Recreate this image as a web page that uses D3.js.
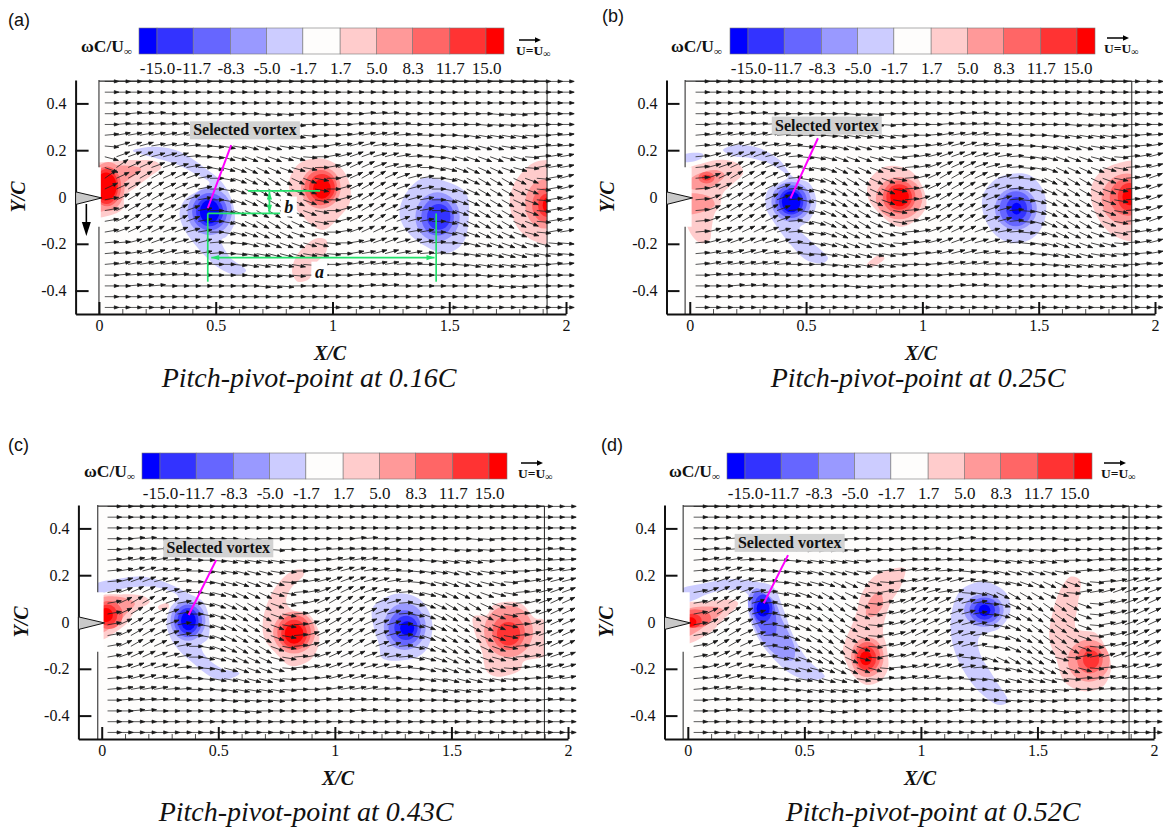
<!DOCTYPE html>
<html>
<head>
<meta charset="utf-8">
<script src="https://cdn.jsdelivr.net/npm/d3@7"></script>
<style>
  body { margin: 0; background: #fff; }
  text { fill: #111; }
</style>
</head>
<body>
<svg id="fig" width="1163" height="831"></svg>
<script>
const xTicks = [0, 0.5, 1, 1.5, 2];
const xMinor = [0.1, 0.2, 0.3, 0.4, 0.6, 0.7, 0.8, 0.9, 1.1, 1.2, 1.3, 1.4, 1.6, 1.7, 1.8, 1.9];
const yTicks = [0.4, 0.2, 0, -0.2, -0.4];
const cbEdges = [-16.67, -15, -11.7, -8.3, -5, -1.7, 1.7, 5, 8.3, 11.7, 15, 16.67];
const cbTicks = [-15, -11.7, -8.3, -5, -1.7, 1.7, 5, 8.3, 11.7, 15];
const cbLabels = ["-15.0", "-11.7", "-8.3", "-5.0", "-1.7", "1.7", "5.0", "8.3", "11.7", "15.0"];
const cbColors = ["#0000ff", "#3333ff", "#6666ff", "#9999ff", "#ccccff", "#fefdfc", "#ffcccc", "#ff9999", "#ff6666", "#ff3333", "#ff0000"];
const airfoil = [[-0.1, 0.022], [0.012, -0.004], [-0.1, -0.032]];

// velocity direction per grid cell: digits = up in 5 deg steps, letters a-i = down in 5 deg steps
const fieldY = [0.494, 0.448, 0.402, 0.356, 0.31, 0.264, 0.218, 0.172, 0.126, 0.08, 0.034, -0.012, -0.058, -0.104, -0.15, -0.196, -0.242, -0.288, -0.334, -0.38, -0.426, -0.472];
const fieldA = [
  "0000000000000000000000000000000000000000",
  "0000000000000000000000000000000000000000",
  "0000000000000000000000000000000000000000",
  "0011100000000aaa00000011100000000aaa0000",
  "011111100000aaaaa000011111000000aaaaa000",
  "12222221100abbbbba001222211000abbbbba011",
  "a33322210abbcccbba0223322110abbcccbba111",
  "c44433310accdddcca0234433210accdddcca122",
  "d75544320bcdeeedcb0245543220bcdeeedca222",
  "7566655420bdefffedb0356654320bdefffeda23",
  "5566655420bdefffedb0356654320bdefffeda23",
  "2566655420bdefffedb0356654320bdefffeda23",
  "2566655420bdefffedb0356654320bdefffeda23",
  "2566655420bdefffedb0356654320bdefffeda23",
  "2455544320bcdeeedcb0245543220bcdeeedca22",
  "11344433310accdddcca0234433210accdddccaa",
  "11233322210abbcccbba0223322110abbcccbbaa",
  "12222221100abbbbba001222211000abbbbba011",
  "011111100000aaaaa000011111000000aaaaa000",
  "0011100000000aaa00000011100000000aaa0000",
  "0000000000000000000000000000000000000000",
  "0000000000000000000000000000000000000000"
];
const fieldB = [
  "0000000000000000000000000000000000000000",
  "0000000000000000000000000000000000000000",
  "0000000000000000000000000000000000000000",
  "0001110000000aaa00000011100000000aaa0000",
  "011111100000aaaaa000011111000000aaaaa000",
  "12222221000abbbbba001222211000abbbbba011",
  "122333221aabcccbba01233322110abcccbba012",
  "133444331abcdddcca1234443321abcdddcca123",
  "134555431bbdeeedcb1245554321abdeeedcb123",
  "145666541bcefffedb1356665431acefffedb134",
  "145666541bcefffedb1356665431acefffedb134",
  "145666541bcefffedb1356665431acefffedb134",
  "145666541bcefffedb1356665431acefffedb134",
  "145666541bcefffedb1356665431acefffedb134",
  "134555431bbdeeedcb1245554321abdeeedcb123",
  "133444331abcdddcca1234443321abcdddcca123",
  "122333221aabcccbba01233322110abcccbba012",
  "12222221000abbbbba001222211000abbbbba011",
  "011111100000aaaaa000011111000000aaaaa000",
  "0001110000000aaa00000011100000000aaa0000",
  "0000000000000000000000000000000000000000",
  "0000000000000000000000000000000000000000"
];
const fieldC = [
  "0000000000000000000000000000000000000000",
  "0000000000000000000000000000000000000000",
  "0000000000000000000000000000000000000000",
  "00110000000aa000000001100000000aa0000000",
  "0111110000aaaaa00011111100000aaaa0000110",
  "122221100abbbbba00122221100abbbba0011111",
  "12332210abbcccba0123332210abbcccbba01222",
  "13443310accdddca1234443321accdddcca12333",
  "24554320bcdeeecb1245554321bcdeeedcb12344",
  "25665420bdefffdb1356665431bdefffedb13455",
  "25665420bdefffdb1356665431bdefffedb13455",
  "25665420bdefffdb1356665431bdefffedb13455",
  "25665420bdefffdb1356665431bdefffedb13455",
  "25665420bdefffdb1356665431bdefffedb13455",
  "24554320bcdeeecb1245554321bcdeeedcb12344",
  "13443310accdddca1234443321accdddcca12333",
  "12332210abbcccba0123332210abbcccbba01222",
  "122221100abbbbba00122221100abbbba0011111",
  "0111110000aaaaa00011111100000aaaa0000110",
  "00110000000aa000000001100000000aa0000000",
  "0000000000000000000000000000000000000000",
  "0000000000000000000000000000000000000000"
];
const fieldD = [
  "0000000000000000000000000000000000000000",
  "0000000000000000000000000000000000000000",
  "0000000000000000000000000000000000000000",
  "00110000000aa000000000110000000aa0000000",
  "011110000aaaaa000011100000aaaaa000000111",
  "12221100abbbbba0001111100abbbbba00111111",
  "1233210abbccccba1122211aabcccccba1122222",
  "1344321acccdeedca12333321abcdeeedca12333",
  "2455421bcdeffeca2244322abdefffeca2234444",
  "2566531bdefggfda235555432acefgggfda23455",
  "2566531bdefggfda235555432acefgggfda23455",
  "2566531bdefggfda235555432acefgggfda23455",
  "2566531bdefggfda235555432acefgggfda23455",
  "2566531bdefggfda235555432acefgggfda23455",
  "2455421bcdeffeca2244322abdefffeca2234444",
  "1344321acccdeedca12333321abcdeeedca12333",
  "1233210abbccccba1122211aabcccccba1122222",
  "12221100abbbbba0001111100abbbbba00111111",
  "011110000aaaaa000011100000aaaaa000000111",
  "00110000000aa000000000110000000aa0000000",
  "0000000000000000000000000000000000000000",
  "0000000000000000000000000000000000000000"
];

// vorticity patches: [w, outline points in X/C, Y/C]
const sheetsA = [
  [3, [[-0.03, 0.132], [0.06, 0.151], [0.16, 0.158], [0.245, 0.151], [0.267, 0.127], [0.217, 0.087], [0.16, 0.044], [0.11, 0.001], [0.103, -0.048], [0.053, -0.077], [-0.03, -0.081]]],
  [7, [[-0.03, 0.12], [0.1, 0.135], [0.18, 0.12], [0.1, 0.05], [0.06, -0.04], [-0.03, -0.06]]],
  [-3, [[0.145, 0.198], [0.245, 0.215], [0.345, 0.194], [0.445, 0.13], [0.531, 0.058], [0.573, -0.027], [0.58, -0.113], [0.545, -0.17], [0.524, -0.184], [0.559, -0.255], [0.63, -0.315], [0.588, -0.333], [0.516, -0.305], [0.431, -0.226], [0.367, -0.141], [0.345, -0.07], [0.367, -0.013], [0.431, 0.03], [0.474, 0.06], [0.402, 0.105], [0.317, 0.145], [0.231, 0.17]]],
  [3, [[0.951, 0.165], [1.03, 0.13], [1.073, 0.058], [1.073, -0.027], [1.03, -0.084], [0.959, -0.141], [0.887, -0.098], [0.83, -0.027], [0.816, 0.073], [0.859, 0.144]]],
  [3, [[0.93, -0.177], [0.973, -0.184], [0.973, -0.234], [0.916, -0.298], [0.902, -0.348], [0.852, -0.362], [0.827, -0.319], [0.844, -0.255], [0.887, -0.205]]],
  [-3, [[1.387, 0.08], [1.486, 0.066], [1.572, 0.016], [1.583, -0.098], [1.558, -0.198], [1.486, -0.241], [1.401, -0.212], [1.315, -0.141], [1.287, -0.07], [1.315, 0.016]]],
  [3, [[1.872, 0.151], [1.96, 0.144], [1.96, -0.198], [1.872, -0.191], [1.8, -0.141], [1.76, -0.041], [1.772, 0.044], [1.815, 0.108]]]
];
const coresA = [
  [0.04, 0.045, 0.07, 0.105, 7], [0.035, 0.045, 0.06, 0.085, 10], [0.032, 0.045, 0.05, 0.075, 13], [0.03, 0.045, 0.045, 0.06, 16],
  [0.474, -0.063, 0.095, 0.1, -7], [0.474, -0.063, 0.075, 0.08, -10], [0.474, -0.063, 0.058, 0.062, -13], [0.474, -0.063, 0.042, 0.05, -16],
  [0.95, 0.04, 0.085, 0.09, 7], [0.95, 0.04, 0.07, 0.075, 10], [0.955, 0.04, 0.055, 0.058, 13], [0.955, 0.035, 0.038, 0.042, 16],
  [1.45, -0.085, 0.095, 0.105, -7], [1.45, -0.085, 0.07, 0.08, -10], [1.455, -0.085, 0.05, 0.055, -13],
  [1.91, -0.03, 0.085, 0.105, 7], [1.915, -0.035, 0.06, 0.075, 10], [1.92, -0.035, 0.04, 0.05, 13], [1.925, -0.035, 0.025, 0.035, 16]
];
const sheetsB = [
  [-3, [[-0.03, 0.179], [0.057, 0.184], [0.05, 0.165], [-0.03, 0.151]]],
  [3, [[-0.02, 0.109], [0.057, 0.144], [0.143, 0.159], [0.215, 0.137], [0.229, 0.102], [0.186, 0.058], [0.143, 0.016], [0.129, -0.041], [0.107, -0.07], [0.093, -0.142], [0.086, -0.184], [0.05, -0.198], [0.014, -0.171], [-0.02, -0.098], [-0.02, -0.07]]],
  [7, [[-0.02, 0.058], [0.043, 0.101], [0.114, 0.115], [0.15, 0.094], [0.107, 0.051], [0.05, 0.03], [-0.02, 0.044]]],
  [7, [[-0.02, 0.009], [0.086, 0.001], [0.107, -0.034], [0.057, -0.063], [-0.02, -0.07]]],
  [-3, [[0.143, 0.201], [0.2, 0.222], [0.3, 0.208], [0.386, 0.158], [0.443, 0.087], [0.515, 0.058], [0.544, -0.027], [0.515, -0.098], [0.472, -0.134], [0.515, -0.184], [0.594, -0.262], [0.572, -0.283], [0.501, -0.269], [0.429, -0.198], [0.365, -0.113], [0.326, -0.041], [0.336, 0.03], [0.386, 0.06], [0.422, 0.085], [0.358, 0.135], [0.272, 0.165], [0.186, 0.175]]],
  [3, [[0.844, 0.13], [0.944, 0.115], [1.0, 0.044], [1.016, -0.041], [0.973, -0.098], [0.901, -0.127], [0.815, -0.07], [0.765, 0.001], [0.773, 0.073]]],
  [3, [[0.761, -0.291], [0.816, -0.248], [0.837, -0.262], [0.787, -0.298]]],
  [-3, [[1.359, 0.094], [1.459, 0.094], [1.524, 0.016], [1.526, -0.098], [1.481, -0.17], [1.402, -0.198], [1.323, -0.17], [1.266, -0.084], [1.259, 0.001], [1.302, 0.066]]],
  [3, [[1.803, 0.13], [1.95, 0.144], [1.95, -0.184], [1.832, -0.17], [1.76, -0.098], [1.724, 0.001], [1.738, 0.073]]]
];
const coresB = [
  [0.072, 0.083, 0.035, 0.025, 10], [0.072, 0.083, 0.02, 0.012, 13],
  [0.436, -0.02, 0.085, 0.085, -7], [0.436, -0.02, 0.068, 0.07, -10], [0.436, -0.02, 0.052, 0.055, -13], [0.436, -0.02, 0.04, 0.045, -16],
  [0.9, -0.005, 0.1, 0.09, 7], [0.9, 0, 0.07, 0.07, 10], [0.9, 0, 0.055, 0.055, 13], [0.902, 0, 0.04, 0.04, 16],
  [1.402, -0.05, 0.09, 0.09, -7], [1.402, -0.05, 0.07, 0.075, -10], [1.405, -0.05, 0.045, 0.05, -13], [1.405, -0.05, 0.022, 0.025, -16],
  [1.88, -0.01, 0.11, 0.11, 7], [1.885, 0, 0.08, 0.08, 10], [1.89, 0, 0.05, 0.06, 13], [1.89, 0, 0.03, 0.035, 16]
];
const sheetsC = [
  [-3, [[-0.03, 0.158], [0.085, 0.187], [0.171, 0.194], [0.285, 0.165], [0.37, 0.123], [0.434, 0.087], [0.46, 0.016], [0.456, -0.07], [0.427, -0.098], [0.442, -0.141], [0.513, -0.198], [0.591, -0.219], [0.556, -0.241], [0.484, -0.241], [0.385, -0.17], [0.313, -0.098], [0.278, -0.013], [0.293, 0.058], [0.328, 0.108], [0.256, 0.144], [0.157, 0.151], [0.057, 0.137], [-0.03, 0.123]]],
  [3, [[-0.02, 0.101], [0.085, 0.118], [0.185, 0.108], [0.206, 0.087], [0.142, 0.044], [0.1, -0.013], [-0.02, -0.077]]],
  [3, [[0.242, 0.066], [0.285, 0.08], [0.285, 0.058], [0.249, 0.051]]],
  [7, [[-0.02, 0.094], [0.071, 0.108], [0.142, 0.08], [0.1, 0.03], [0.057, -0.013], [-0.02, -0.048]]],
  [3, [[0.866, 0.222], [0.866, 0.201], [0.812, 0.144], [0.791, 0.087], [0.819, 0.051], [0.883, 0.037], [0.926, -0.027], [0.933, -0.084], [0.912, -0.141], [0.883, -0.17], [0.812, -0.188], [0.741, -0.127], [0.698, -0.07], [0.691, 0.001], [0.719, 0.101], [0.762, 0.171], [0.826, 0.222]]],
  [-3, [[1.282, 0.123], [1.368, 0.094], [1.417, 0.001], [1.396, -0.113], [1.339, -0.155], [1.204, -0.155], [1.19, -0.098], [1.168, -0.027], [1.161, 0.058], [1.211, 0.101]]],
  [3, [[1.681, 0.073], [1.795, 0.08], [1.859, 0.016], [1.895, 0.009], [1.92, -0.134], [1.809, -0.17], [1.795, -0.205], [1.695, -0.234], [1.652, -0.212], [1.631, -0.127], [1.595, -0.027], [1.595, 0.023], [1.652, 0.03]]]
];
const coresC = [
  [0.03, 0.03, 0.06, 0.06, 10], [0.025, 0.03, 0.042, 0.045, 13], [0.018, 0.03, 0.03, 0.03, 16],
  [0.37, 0.005, 0.075, 0.085, -7], [0.37, 0.005, 0.06, 0.07, -10], [0.37, 0.005, 0.045, 0.055, -13], [0.372, 0.005, 0.032, 0.04, -16],
  [0.825, -0.045, 0.09, 0.09, 7], [0.825, -0.045, 0.072, 0.075, 10], [0.825, -0.05, 0.055, 0.06, 13], [0.825, -0.05, 0.04, 0.043, 16],
  [1.3, -0.02, 0.09, 0.1, -7], [1.3, -0.025, 0.07, 0.075, -10], [1.305, -0.025, 0.05, 0.052, -13], [1.31, -0.027, 0.03, 0.03, -16],
  [1.745, -0.04, 0.105, 0.11, 7], [1.745, -0.045, 0.07, 0.075, 10], [1.745, -0.05, 0.05, 0.05, 13]
];
const sheetsD = [
  [-3, [[-0.03, 0.137], [0.066, 0.165], [0.194, 0.184], [0.294, 0.172], [0.366, 0.151], [0.409, 0.058], [0.451, -0.056], [0.509, -0.155], [0.587, -0.234], [0.523, -0.248], [0.451, -0.227], [0.366, -0.155], [0.294, -0.056], [0.259, 0.044], [0.259, 0.115], [0.223, 0.137], [0.109, 0.127], [0.009, 0.087], [-0.03, 0.08]]],
  [-7, [[0.294, 0.144], [0.373, 0.087], [0.402, 0.016], [0.459, -0.113], [0.451, -0.162], [0.401, -0.155], [0.323, -0.084], [0.273, 0.016], [0.259, 0.101]]],
  [-10, [[0.294, 0.13], [0.359, 0.094], [0.38, 0.001], [0.373, -0.056], [0.337, -0.056], [0.287, 0.016], [0.273, 0.087]]],
  [3, [[-0.02, 0.073], [0.08, 0.087], [0.194, 0.094], [0.216, 0.08], [0.151, 0.009], [0.08, -0.056], [-0.02, -0.091]]],
  [7, [[-0.02, 0.044], [0.094, 0.066], [0.151, 0.051], [0.109, 0.009], [-0.02, -0.063]]],
  [3, [[0.93, 0.229], [0.916, 0.158], [0.866, 0.073], [0.837, -0.041], [0.851, -0.098], [0.859, -0.198], [0.83, -0.248], [0.766, -0.269], [0.709, -0.227], [0.673, -0.155], [0.666, -0.113], [0.716, 0.016], [0.751, 0.13], [0.809, 0.201]]],
  [7, [[0.823, 0.13], [0.837, 0.073], [0.794, 0.023], [0.766, 0.03], [0.78, 0.094]]],
  [-3, [[1.28, 0.172], [1.366, 0.123], [1.383, 0.044], [1.337, -0.027], [1.251, -0.063], [1.251, -0.127], [1.316, -0.241], [1.373, -0.34], [1.337, -0.355], [1.266, -0.312], [1.194, -0.226], [1.137, -0.098], [1.13, 0.03], [1.166, 0.13], [1.223, 0.165]]],
  [3, [[1.644, 0.194], [1.683, 0.179], [1.673, 0.073], [1.666, -0.027], [1.751, -0.048], [1.794, -0.113], [1.816, -0.198], [1.78, -0.276], [1.694, -0.295], [1.616, -0.255], [1.58, -0.155], [1.551, -0.07], [1.566, 0.044], [1.601, 0.144]]]
];
const coresD = [
  [0.03, 0.015, 0.07, 0.04, 10], [0.02, 0.005, 0.04, 0.03, 13], [0.012, 0, 0.025, 0.02, 16],
  [0.323, 0.058, 0.04, 0.06, -13], [0.323, 0.058, 0.028, 0.035, -16],
  [0.77, -0.15, 0.07, 0.085, 7], [0.77, -0.15, 0.055, 0.065, 10], [0.766, -0.155, 0.042, 0.05, 13], [0.764, -0.155, 0.025, 0.03, 16],
  [1.27, 0.05, 0.085, 0.07, -7], [1.273, 0.05, 0.065, 0.055, -10], [1.273, 0.05, 0.045, 0.04, -13], [1.273, 0.05, 0.025, 0.025, -16],
  [1.72, -0.165, 0.09, 0.09, 7], [1.725, -0.16, 0.055, 0.06, 10], [1.73, -0.16, 0.035, 0.04, 13]
];

// selected vortex pointer: [label X, label Y, from X, from Y, to X, to Y]
const pointerA = [0.625, 0.285, 0.566, 0.222, 0.466, -0.048];
const pointerB = [0.589, 0.305, 0.551, 0.251, 0.433, -0.006];
const pointerC = [0.5, 0.315, 0.491, 0.265, 0.373, 0.03];
const pointerD = [0.437, 0.338, 0.43, 0.286, 0.326, 0.08];

// spacing marks in (a): [x1, y1, x2, y2]
const greenLines = [[0.638, 0.026, 0.947, 0.026], [0.466, -0.07, 0.776, -0.07], [0.466, -0.07, 0.466, -0.362], [1.444, -0.07, 1.444, -0.362]];
const greenArrows = [[0.481, -0.259, 1.437, -0.259], [0.73, 0.023, 0.73, -0.067]];
const spacingLabels = [["a", 0.944, -0.319], ["b", 0.813, -0.041]];

const panels = [
  { tag: "(a)", tagX: 8, tagY: 26, field: fieldA, sheets: sheetsA, cores: coresA, pointer: pointerA, caption: "Pitch-pivot-point at 0.16C",
    xr: [75.6, 566], yr: [314, 80], frameL: 0, frameR: 1.919, cbX: 139, cbY: 28, refX: 519, refY: 40, titleX: 81, xLabel: 330, yLabel: 19, capX: 309, capY: 387 },
  { tag: "(b)", tagX: 602, tagY: 22, field: fieldB, sheets: sheetsB, cores: coresB, pointer: pointerB, caption: "Pitch-pivot-point at 0.25C",
    xr: [666.5, 1155], yr: [314, 80], frameL: -0.02, frameR: 1.9, cbX: 730, cbY: 28, refX: 1107, refY: 38, titleX: 671, xLabel: 921, yLabel: 608, capX: 918, capY: 387 },
  { tag: "(c)", tagX: 8, tagY: 451, field: fieldC, sheets: sheetsC, cores: coresC, pointer: pointerC, caption: "Pitch-pivot-point at 0.43C",
    xr: [78.4, 568], yr: [739, 505], frameL: -0.017, frameR: 1.899, cbX: 142, cbY: 453, refX: 521, refY: 463, titleX: 84, xLabel: 338, yLabel: 22, capX: 306, capY: 821 },
  { tag: "(d)", tagX: 601, tagY: 451, field: fieldD, sheets: sheetsD, cores: coresD, pointer: pointerD, caption: "Pitch-pivot-point at 0.52C",
    xr: [664.5, 1154], yr: [739, 505], frameL: -0.02, frameR: 1.893, cbX: 727, cbY: 453, refX: 1104, refY: 463, titleX: 669, xLabel: 920, yLabel: 607, capX: 933, capY: 821 }
];

const serif = "'Liberation Serif', serif";
const svg = d3.select("#fig");
const defs = svg.append("defs");
const vortColor = d3.scaleThreshold().domain(cbEdges.slice(1, -1)).range(cbColors);
const outline = d3.line().curve(d3.curveCatmullRomClosed.alpha(0.5));

function angleOf(code) {
  const up = "0123456789".indexOf(code);
  if (up >= 0) return up * 5;
  return ("abcdefghi".indexOf(code) + 1) * -5;
}

function drawColorbar(g, p) {
  const barW = 365;
  const barH = 26;
  const scale = d3.scaleLinear().domain([-15, 15]).range([p.cbX + 18, p.cbX + barW - 18]);
  const ext = (v) => (v < -15 ? p.cbX : v > 15 ? p.cbX + barW : scale(v));
  g.selectAll("rect.cell")
    .data(cbColors)
    .join("rect")
    .attr("class", "cell")
    .attr("x", (d, i) => ext(cbEdges[i]))
    .attr("y", p.cbY)
    .attr("width", (d, i) => ext(cbEdges[i + 1]) - ext(cbEdges[i]))
    .attr("height", barH)
    .attr("fill", (d) => d)
    .attr("stroke", "#777")
    .attr("stroke-width", 0.6);
  const axis = g.append("g")
    .attr("transform", `translate(0, ${p.cbY + barH})`)
    .call(d3.axisBottom(scale).tickValues(cbTicks).tickSize(0).tickPadding(8).tickFormat((d, i) => cbLabels[i]));
  axis.select(".domain").remove();
  axis.selectAll("text").attr("font-family", serif).attr("font-size", 17).attr("fill", "#111");

  const title = g.append("text")
    .attr("x", p.titleX)
    .attr("y", p.cbY + 24)
    .attr("font-family", serif)
    .attr("font-size", 17.5)
    .attr("font-weight", "bold");
  title.append("tspan").text("ωC/U");
  title.append("tspan").text("∞").attr("font-size", 11).attr("dy", 3);

  g.append("line")
    .attr("x1", p.refX).attr("x2", p.refX + 18)
    .attr("y1", p.refY).attr("y2", p.refY)
    .attr("stroke", "#000").attr("stroke-width", 1.5);
  g.append("path")
    .attr("d", `M${p.refX + 22},${p.refY} l-6,-2.8 v5.6 z`)
    .attr("fill", "#000");
  const ref = g.append("text")
    .attr("x", p.refX - 3)
    .attr("y", p.refY + 15)
    .attr("font-family", serif)
    .attr("font-size", 13.5)
    .attr("font-weight", "bold");
  ref.append("tspan").text("U=U");
  ref.append("tspan").text("∞").attr("font-size", 10).attr("dy", 2);
}

panels.forEach((p, n) => {
  const g = svg.append("g");
  const x = d3.scaleLinear().domain([-0.1, 2]).range(p.xr);
  const y = d3.scaleLinear().domain([-0.5, 0.5]).range(p.yr);

  g.append("text")
    .text(p.tag)
    .attr("x", p.tagX)
    .attr("y", p.tagY)
    .attr("font-family", "'Liberation Sans', sans-serif")
    .attr("font-size", 18);

  drawColorbar(g, p);

  // frame background and vorticity contours
  g.append("rect")
    .attr("x", x(p.frameL)).attr("y", y(0.5))
    .attr("width", x(p.frameR) - x(p.frameL)).attr("height", y(-0.5) - y(0.5))
    .attr("fill", "#fefdfc");

  const clipId = `clip${n}`;
  defs.append("clipPath").attr("id", clipId).append("rect")
    .attr("x", x(p.frameL)).attr("y", y(0.5))
    .attr("width", x(p.frameR) - x(p.frameL)).attr("height", y(-0.5) - y(0.5));

  const contours = g.append("g").attr("clip-path", `url(#${clipId})`);
  const shapes = [
    ...p.sheets.map((s) => ({ w: s[0], pts: s[1] })),
    ...p.cores.map((c) => ({ w: c[4], core: c }))
  ].sort((a, b) => Math.abs(a.w) - Math.abs(b.w));
  shapes.forEach((s) => {
    if (s.pts) {
      contours.append("path")
        .attr("d", outline(s.pts.map((d) => [x(d[0]), y(d[1])])))
        .attr("fill", vortColor(s.w));
    } else {
      contours.append("ellipse")
        .attr("cx", x(s.core[0]))
        .attr("cy", y(s.core[1]))
        .attr("rx", x(s.core[2]) - x(0))
        .attr("ry", y(0) - y(s.core[3]))
        .attr("fill", vortColor(s.w));
    }
  });

  // white gap behind the airfoil
  g.append("rect")
    .attr("x", x(-0.1)).attr("y", y(0.127))
    .attr("width", x(0.008) - x(-0.1)).attr("height", y(-0.127) - y(0.127))
    .attr("fill", "#fff");
  g.append("rect")
    .attr("x", x(-0.1)).attr("y", y(0.5))
    .attr("width", x(p.frameL) - x(-0.1)).attr("height", y(-0.5) - y(0.5))
    .attr("fill", "#fff");

  const frame = [
    [p.frameL, 0.5, p.frameL, 0.127],
    [p.frameL, -0.127, p.frameL, -0.5],
    [p.frameL, 0.495, p.frameR, 0.495],
    [p.frameR, 0.495, p.frameR, -0.5]
  ];
  g.selectAll("line.frame")
    .data(frame)
    .join("line")
    .attr("class", "frame")
    .attr("x1", (d) => x(d[0])).attr("y1", (d) => y(d[1]))
    .attr("x2", (d) => x(d[2])).attr("y2", (d) => y(d[3]))
    .attr("stroke", "#333")
    .attr("stroke-width", 1.1);

  // velocity vectors
  const cells = [];
  p.field.forEach((row, r) => {
    row.split("").forEach((code, c) => {
      cells.push({ x: 0.025 + c * 0.05, y: fieldY[r], angle: angleOf(code) });
    });
  });
  g.append("g")
    .selectAll("path")
    .data(cells)
    .join("path")
    .attr("transform", (d) => `translate(${x(d.x)}, ${y(d.y)}) rotate(${-d.angle})`)
    .attr("d", "M0,0 H14 M14,0 L9.5,-1.6 L9.5,1.6 Z")
    .attr("stroke", "#222")
    .attr("stroke-width", 0.75)
    .attr("fill", "#000");

  // axes
  const xAxis = g.append("g")
    .attr("transform", `translate(0, ${p.yr[0]})`)
    .call(d3.axisBottom(x).tickValues(xTicks).tickSizeInner(-12).tickSizeOuter(0).tickPadding(6).tickFormat((d) => String(d)));
  const xMinorAxis = g.append("g")
    .attr("transform", `translate(0, ${p.yr[0]})`)
    .call(d3.axisBottom(x).tickValues(xMinor).tickSizeInner(-5).tickSizeOuter(0).tickFormat(""));
  const yAxis = g.append("g")
    .attr("transform", `translate(${p.xr[0]}, 0)`)
    .call(d3.axisLeft(y).tickValues(yTicks).tickSizeInner(-13).tickSizeOuter(0).tickPadding(9).tickFormat((d) => String(d)));
  [xAxis, yAxis].forEach((a) => {
    a.selectAll("path, line").attr("stroke", "#111").attr("stroke-width", 2);
    a.selectAll("text").attr("font-family", serif).attr("font-size", 16).attr("fill", "#222");
  });
  xMinorAxis.select(".domain").remove();
  xMinorAxis.selectAll("line").attr("stroke", "#222").attr("stroke-width", 0.8);

  // airfoil
  g.append("path")
    .attr("d", d3.line()(airfoil.map((d) => [x(d[0]), y(d[1])])) + "Z")
    .attr("fill", "#c9c9c9")
    .attr("stroke", "#111")
    .attr("stroke-width", 1);

  // selected vortex pointer
  const pt = p.pointer;
  g.append("line")
    .attr("x1", x(pt[2])).attr("y1", y(pt[3]))
    .attr("x2", x(pt[4])).attr("y2", y(pt[5]))
    .attr("stroke", "#ff00ff")
    .attr("stroke-width", 2);
  g.append("rect")
    .attr("x", x(pt[0]) - 55).attr("y", y(pt[1]) - 9)
    .attr("width", 110).attr("height", 18)
    .attr("fill", "#d2d2d2");
  g.append("text")
    .text("Selected vortex")
    .attr("x", x(pt[0])).attr("y", y(pt[1]) + 5)
    .attr("text-anchor", "middle")
    .attr("font-family", serif)
    .attr("font-size", 16)
    .attr("font-weight", "bold");

  if (n === 0) {
    g.selectAll("line.green")
      .data(greenLines.concat(greenArrows))
      .join("line")
      .attr("class", "green")
      .attr("x1", (d) => x(d[0])).attr("y1", (d) => y(d[1]))
      .attr("x2", (d) => x(d[2])).attr("y2", (d) => y(d[3]))
      .attr("stroke", "#22e06a")
      .attr("stroke-width", 1.7);
    greenArrows.forEach((d) => {
      const a = Math.atan2(y(d[3]) - y(d[1]), x(d[2]) - x(d[0])) * 180 / Math.PI;
      g.append("path")
        .attr("transform", `translate(${x(d[2])}, ${y(d[3])}) rotate(${a})`)
        .attr("d", "M0,0 L-8,-2.6 L-8,2.6 Z").attr("fill", "#22e06a");
      g.append("path")
        .attr("transform", `translate(${x(d[0])}, ${y(d[1])}) rotate(${a + 180})`)
        .attr("d", "M0,0 L-8,-2.6 L-8,2.6 Z").attr("fill", "#22e06a");
    });
    spacingLabels.forEach((d) => {
      g.append("rect")
        .attr("x", x(d[1]) - 8).attr("y", y(d[2]) - 10)
        .attr("width", 16).attr("height", 20)
        .attr("fill", "#fff");
      g.append("text")
        .text(d[0])
        .attr("x", x(d[1])).attr("y", y(d[2]) + 6)
        .attr("text-anchor", "middle")
        .attr("font-family", serif)
        .attr("font-style", "italic")
        .attr("font-weight", "bold")
        .attr("font-size", 18);
    });
    // pitch direction arrow
    g.append("line")
      .attr("x1", x(-0.054)).attr("y1", y(-0.03))
      .attr("x2", x(-0.054)).attr("y2", y(-0.14))
      .attr("stroke", "#000").attr("stroke-width", 1.6);
    g.append("path")
      .attr("transform", `translate(${x(-0.054)}, ${y(-0.167)})`)
      .attr("d", "M0,0 L-4.5,-14 L4.5,-14 Z")
      .attr("fill", "#000");
  }

  g.append("text")
    .text("X/C")
    .attr("x", p.xLabel).attr("y", p.yr[0] + 46)
    .attr("text-anchor", "middle")
    .attr("font-family", serif)
    .attr("font-style", "italic")
    .attr("font-weight", "bold")
    .attr("font-size", 20);
  g.append("text")
    .text("Y/C")
    .attr("transform", `translate(${p.yLabel + 6}, ${y(0)}) rotate(-90)`)
    .attr("text-anchor", "middle")
    .attr("font-family", serif)
    .attr("font-style", "italic")
    .attr("font-weight", "bold")
    .attr("font-size", 20);
  g.append("text")
    .text(p.caption)
    .attr("x", p.capX).attr("y", p.capY)
    .attr("text-anchor", "middle")
    .attr("font-family", serif)
    .attr("font-style", "italic")
    .attr("font-size", 28);
});
</script>
</body>
</html>
